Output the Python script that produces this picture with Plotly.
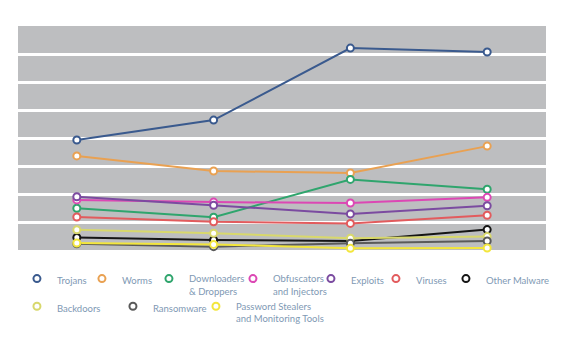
import plotly.graph_objects as go

periods = ["P1", "P2", "P3", "P4"]

trojans = [3.93, 4.64, 7.21, 7.07]
worms = [3.36, 2.82, 2.75, 3.71]
downloaders = [1.49, 1.17, 2.52, 2.17]
obfuscators = [1.79, 1.71, 1.68, 1.88]
exploits = [1.90, 1.60, 1.29, 1.58]
viruses = [1.18, 1.01, 0.95, 1.24]
other_malware = [0.45, 0.36, 0.32, 0.73]
backdoors = [0.72, 0.60, 0.42, 0.48]
ransomware = [0.22, 0.12, 0.24, 0.32]
password_stealers = [0.25, 0.20, 0.06, 0.07]

series_names = ["Trojans", "Worms", "Downloaders<br>& Droppers", "Obfuscators<br>and Injectors",
                "Exploits", "Viruses", "Other Malware", "Backdoors", "Ransomware",
                "Password Stealers<br>and Monitoring Tools"]
series_values = [trojans, worms, downloaders, obfuscators, exploits, viruses,
                 other_malware, backdoors, ransomware, password_stealers]
colors = ["#3a5a8e", "#e9a152", "#2fa56d", "#dc48b4", "#7b4ba0", "#e25b5d",
          "#151515", "#d8d86c", "#5a5a5a", "#f3e63c"]
legend_widths = [20, 22, 39, 33, 20, 25, 61, 51, 38, 100]

fig = go.Figure()
for name, vals, col in zip(series_names, series_values, colors):
    fig.add_trace(go.Scatter(x=periods, y=vals, mode="lines", line=dict(color=col, width=2),
                             legendgroup=name, showlegend=False, hoverinfo="skip"))
for name, vals, col, lw in zip(series_names, series_values, colors, legend_widths):
    fig.add_trace(go.Scatter(x=periods, y=vals, mode="markers", name=name, legendgroup=name,
                             legendwidth=lw, cliponaxis=False,
                             marker=dict(symbol="circle", size=7, color="white",
                                         line=dict(color=col, width=2))))

fig.update_layout(
    width=573, height=361,
    margin=dict(l=18, r=27, t=26, b=111),
    paper_bgcolor="white", plot_bgcolor="#bdbec0",
    font=dict(family="Lato", size=9.5, color="#8099b4"),
    xaxis=dict(range=[-0.43, 3.43], showgrid=False, showticklabels=False, zeroline=False,
               showline=False, ticks=""),
    yaxis=dict(range=[0, 8], tickvals=[1, 2, 3, 4, 5, 6, 7], showticklabels=False,
               gridcolor="white", gridwidth=3, zeroline=False, showline=False, ticks=""),
    legend=dict(orientation="h", xref="paper", yref="paper", x=-0.002, y=-0.071,
                xanchor="left", yanchor="top", valign="top", itemwidth=30,
                font=dict(family="Lato", size=9.5, color="#8099b4"), bgcolor="rgba(0,0,0,0)",
                tracegroupgap=0),
    showlegend=True,
)
fig.write_html("out.html", config={"displayModeBar": False},
               post_script="document.body.style.margin='0';document.body.style.overflow='hidden';")
